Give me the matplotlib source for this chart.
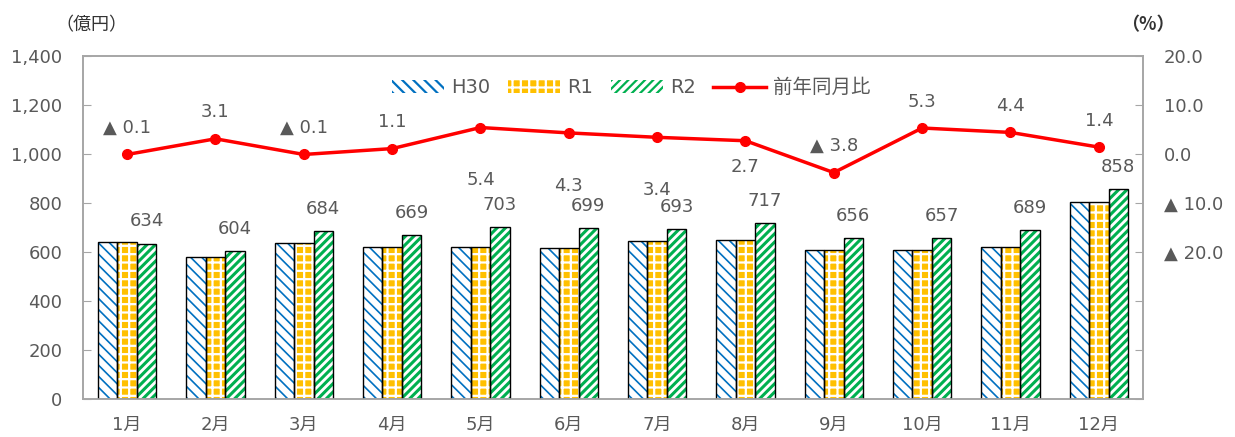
import matplotlib.pyplot as plt
import numpy as np
from matplotlib.patches import Patch
from matplotlib.lines import Line2D

plt.rcParams['font.family'] = ['DejaVu Sans', 'Noto Sans CJK JP']
plt.rcParams['hatch.linewidth'] = 1.6

#==========[Data]==========#
months = ['1月', '2月', '3月', '4月', '5月', '6月', '7月', '8月', '9月', '10月', '11月', '12月']
h30 = [640, 581, 637, 619, 619, 615, 645, 648, 608, 608, 622, 805]
r1 = [640, 581, 637, 619, 619, 615, 645, 648, 608, 608, 622, 805]
r2 = [634, 604, 684, 669, 703, 699, 693, 717, 656, 657, 689, 858]
yoy = [-0.1, 3.1, -0.1, 1.1, 5.4, 4.3, 3.4, 2.7, -3.8, 5.3, 4.4, 1.4]
# label offsets (points) for the ratio labels, negative = under the point
yoy_off = [19, 19, 19, 19, -38, -38, -38, -19, 19, 19, 19, 19]
right_ticks = [20, 10, 0, -10, -20, -30, -40, -50]
#==========================#

text_col = '#595959'
frame_col = '#A6A6A6'
blue, yellow, green, red = '#0070C0', '#FFC000', '#00B050', '#FF0000'
fs = 13
jp = ['Noto Sans CJK JP', 'DejaVu Sans']


def pct(v):
    if v < 0:
        return f'▲ {abs(v):.1f}'
    return f'{v:.1f}'


fig = plt.figure(figsize=(12.35, 4.37), dpi=100)
ax = fig.add_axes([0.0672, 0.087, 0.8583, 0.7849])
ax2 = ax.twinx()

x = np.arange(len(months))
w = 0.22
# (values, offset, face, hatch colour, hatch, hatch width)
series = [
    (h30, -w, 'white', blue, '\\\\\\', 1.2),
    (r1, 0, yellow, 'white', '++', 1.6),
    (r2, w, 'white', green, '////', 2.2),
]
for vals, off, fc, hc, hatch, hw in series:
    with plt.rc_context({'hatch.linewidth': hw}):
        bars = ax.bar(x + off, vals, w, color=fc, edgecolor=hc, hatch=hatch,
                      linewidth=0, zorder=2)
    for b in bars:
        if hasattr(b, 'set_hatch_linewidth'):
            b.set_hatch_linewidth(hw)
    ax.bar(x + off, vals, w, fill=False, edgecolor='black', linewidth=1.0, zorder=3)

for xi, v in zip(x, r2):
    ax.annotate(f'{v}', (xi + w, v), xytext=(0, 16), textcoords='offset points',
                ha='center', va='center', fontsize=fs, color=text_col)

ax.set_ylim(0, 1400)
ax.set_yticks(range(0, 1401, 200))
ax.set_yticklabels([f'{v:,}' for v in range(0, 1401, 200)])
ax.set_xlim(-0.5, len(months) - 0.5)
ax.set_xticks(x)
ax.set_xticklabels(months)
ax.tick_params(axis='y', direction='in', length=6, color=frame_col, labelsize=fs,
               labelcolor=text_col, pad=15)
ax.tick_params(axis='x', length=0, labelsize=fs, labelcolor=text_col, pad=12)

ax2.plot(x, yoy, color=red, lw=2.5, marker='o', ms=7, zorder=5)
for xi, v, dy in zip(x, yoy, yoy_off):
    ax2.annotate(pct(v), (xi, v), xytext=(0, dy), textcoords='offset points',
                 ha='center', va='center', fontsize=fs, color=text_col)
ax2.set_ylim(-50, 20)
ax2.set_yticks(right_ticks)
ax2.set_yticklabels([pct(v) if v >= -20 else '' for v in right_ticks])
ax2.tick_params(axis='y', direction='in', length=6, color=frame_col, labelsize=fs,
                labelcolor=text_col, pad=15)

for a in (ax, ax2):
    for s in a.spines.values():
        s.set_color(frame_col)
        s.set_linewidth(1.2)
ax.set_zorder(1)
ax2.set_zorder(2)
ax.patch.set_visible(False)

handles = [
    Patch(facecolor='white', edgecolor=blue, hatch='\\\\\\', linewidth=0),
    Patch(facecolor=yellow, edgecolor='white', hatch='++', linewidth=0),
    Patch(facecolor='white', edgecolor=green, hatch='////', linewidth=0),
    Line2D([], [], color=red, lw=2.5, marker='o', ms=7),
]
ax2.legend(handles, ['H30', 'R1', 'R2', '前年同月比'], ncol=4, frameon=False,
           loc='center', bbox_to_anchor=(0.517, 0.907), fontsize=14,
           handlelength=2.7, handletextpad=0.35, columnspacing=0.9,
           labelcolor=text_col)

fig.text(0.0737, 0.943, '（億円）', ha='center', va='center', fontsize=13,
         color='#333333', family=jp)
fig.text(0.9295, 0.943, '（%）', ha='center', va='center', fontsize=13,
         color='#333333', fontweight='bold', family=jp)

fig.savefig('out.png', dpi=100)
